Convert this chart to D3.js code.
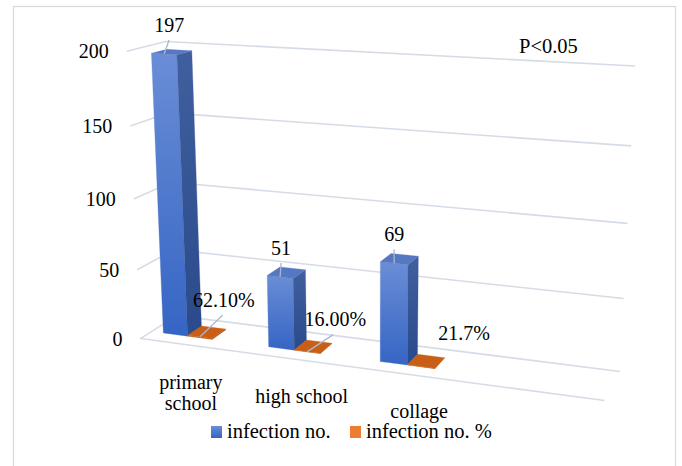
<!DOCTYPE html>
<html><head><meta charset="utf-8">
<script src="https://cdn.jsdelivr.net/npm/d3@7"></script>
<style>
@font-face { font-family: "ChartSerif"; src: local("Liberation Serif"), local("LiberationSerif"), local("Liberation Serif Regular"), local("LiberationSerif-Regular"), local("Times New Roman"); }
</style>
</head><body style="margin:0"><svg id="chart" width="682" height="466" style="display:block"></svg>
<script>
// ---------------- data ----------------
const categories = ["primary school", "high school", "collage"];
const infectionNo = [197, 51, 69];
const infectionPct = [0.621, 0.16, 0.217];
const infectionPctLabels = ["62.10%", "16.00%", "21.7%"];
const yTicks = [0, 50, 100, 150, 200];
const seriesNames = ["infection no.", "infection no. %"];
const annotation = "P<0.05";

// ---------------- layout ----------------
const W = 682, H = 466;
const FONT = 20;
const FAMILY = '"Times New Roman"';
const catSlots = 4;                  // axis holds a fourth, empty category
const barStart = 0.115, barW = 0.235; // within a category band (world units)
const zFront = 0.3, zBack = 0.7;      // bar depth within floor depth
const yScale = d3.scaleLinear().domain([0, 200]).range([0, 1]);
const xBand = d3.scaleBand().domain(d3.range(catSlots)).range([0, catSlots]).padding(0);

// camera calibration: world (X,Y,Z) of the 3-D frame -> screen pixels
const frameAnchors = [
  [0, 1, 0, 127, 52], [0, .75, 0, 130, 126], [0, .5, 0, 133, 199], [0, .25, 0, 137, 269], [0, 0, 0, 141, 339],
  [0, 1, 1, 166, 41],
  [4, 1, 1, 635, 66], [4, .75, 1, 632, 146], [4, .5, 1, 627, 223], [4, .25, 1, 623, 299], [4, 0, 1, 620, 372],
  [4, 0, 0, 605, 400]
];

function fitProjection(pts) {
  const A = [], b = [], s = 100;
  pts.forEach(([X, Y, Z, u0, v0]) => {
    const u = u0 / s, v = v0 / s;
    A.push([X, Y, Z, 1, 0, 0, 0, 0, -u * X, -u * Y, -u * Z]); b.push(u);
    A.push([0, 0, 0, 0, X, Y, Z, 1, -v * X, -v * Y, -v * Z]); b.push(v);
  });
  const n = 11;
  const M = d3.range(n).map(() => new Array(n + 1).fill(0));
  for (let r = 0; r < A.length; r++)
    for (let i = 0; i < n; i++) {
      for (let j = 0; j < n; j++) M[i][j] += A[r][i] * A[r][j];
      M[i][n] += A[r][i] * b[r];
    }
  for (let c = 0; c < n; c++) {
    let p = c;
    for (let r = c + 1; r < n; r++) if (Math.abs(M[r][c]) > Math.abs(M[p][c])) p = r;
    [M[c], M[p]] = [M[p], M[c]];
    for (let r = 0; r < n; r++) if (r !== c) {
      const f = M[r][c] / M[c][c];
      for (let k = c; k <= n; k++) M[r][k] -= f * M[c][k];
    }
  }
  const P = M.map((row, i) => row[n] / row[i]);
  return (X, Y, Z) => {
    const w = P[8] * X + P[9] * Y + P[10] * Z + 1;
    return [s * (P[0] * X + P[1] * Y + P[2] * Z + P[3]) / w,
            s * (P[4] * X + P[5] * Y + P[6] * Z + P[7]) / w];
  };
}
const proj = fitProjection(frameAnchors);

const svg = d3.select("#chart");
const defs = svg.append("defs");
function grad(id, c1, c2) {
  const g = defs.append("linearGradient").attr("id", id).attr("x1", 0).attr("y1", 0).attr("x2", 0).attr("y2", 1);
  g.append("stop").attr("offset", "0%").attr("stop-color", c1);
  g.append("stop").attr("offset", "100%").attr("stop-color", c2);
}
grad("blueFront", "#6a8dd6", "#3565c4");
grad("blueSide", "#405f9e", "#2a4a8c");
grad("orangeFront", "#d0651c", "#b9560f");

svg.append("rect").attr("width", W).attr("height", H).attr("fill", "#fff");
svg.append("rect").attr("x", 13.5).attr("y", 6.5).attr("width", 662).attr("height", 490)
  .attr("fill", "none").attr("stroke", "#d9d9d9").attr("stroke-width", 1.2);

const line = d3.line();
const gridColor = "#d6dce5";

// wall gridlines (side wall segment + back wall line)
yTicks.forEach(t => {
  const y = yScale(t);
  svg.append("path").attr("d", line([proj(0, y, 0), proj(0, y, 1), proj(catSlots, y, 1)]))
    .attr("fill", "none").attr("stroke", gridColor).attr("stroke-width", 1.6);
});
// floor front edge (category axis)
svg.append("path").attr("d", line([proj(0, 0, 0), proj(catSlots, 0, 0)]))
  .attr("fill", "none").attr("stroke", gridColor).attr("stroke-width", 1.6);

// text helper: appended directly to the svg root, serif face
function addText(x, y, str, size, anchor) {
  return svg.append("text").attr("x", x).attr("y", y)
    .attr("font-size", size || FONT)
    .style("font-family", FAMILY)
    .attr("text-anchor", anchor || "start").attr("fill", "#000")
    .text(str);
}

// y tick labels
yTicks.forEach(t => {
  const p = proj(0, yScale(t), 0);
  addText(p[0] - 18, p[1] + 7, String(t), FONT, "end");
});

// 3-D boxes
function box(x0, x1, h, z0, z1) {
  const P = proj;
  return [
    { k: "front", pts: [P(x0,0,z0), P(x0,h,z0), P(x1,h,z0), P(x1,0,z0)] },
    { k: "back", pts: [P(x0,0,z1), P(x1,0,z1), P(x1,h,z1), P(x0,h,z1)] },
    { k: "right", pts: [P(x1,0,z0), P(x1,h,z0), P(x1,h,z1), P(x1,0,z1)] },
    { k: "left", pts: [P(x0,0,z0), P(x0,0,z1), P(x0,h,z1), P(x0,h,z0)] },
    { k: "top", pts: [P(x0,h,z0), P(x0,h,z1), P(x1,h,z1), P(x1,h,z0)] },
    { k: "bottom", pts: [P(x0,0,z0), P(x1,0,z0), P(x1,0,z1), P(x0,0,z1)] }
  ];
}
function drawBox(faces, fills) {
  const ref = Math.sign(d3.polygonArea(faces[0].pts));
  faces.forEach(f => {
    if (Math.sign(d3.polygonArea(f.pts)) !== ref || !fills[f.k]) return;
    svg.append("path").attr("d", line(f.pts) + "Z").attr("fill", fills[f.k])
      .attr("stroke", fills[f.k]).attr("stroke-width", 0.3);
  });
}
const blueFills = { front: "url(#blueFront)", right: "url(#blueSide)", left: "url(#blueSide)", top: "#5677c2" };
const orangeFills = { front: "url(#orangeFront)", right: "#a74c0e", left: "#a74c0e", top: "#c95e16" };
categories.forEach((c, i) => {
  const bx0 = xBand(i) + barStart, bx1 = bx0 + barW, ox1 = bx1 + barW;
  drawBox(box(bx0, bx1, yScale(infectionNo[i]), zFront, zBack), blueFills);
  drawBox(box(bx1, ox1, yScale(infectionPct[i]), zFront, zBack), orangeFills);
});

// data labels
const leaderColor = "#aab8cb";
const blueLeaderDx = [5, 1, 0];
categories.forEach((c, i) => {
  const bx0 = xBand(i) + barStart, bx1 = bx0 + barW;
  const a = proj((bx0 + bx1) / 2, yScale(infectionNo[i]), zFront);
  const top = [a[0] + blueLeaderDx[i], a[1] - 14];
  svg.append("path").attr("d", line([a, top])).attr("stroke", leaderColor).attr("stroke-width", 1.3);
  addText(top[0], a[1] - 22, String(infectionNo[i]), FONT, "middle");
});
const pctLeader = [[23, -22], [26, -17], null];
const pctText = [[24, -30], [28, -26], [43, -27]];
categories.forEach((c, i) => {
  const bx1 = xBand(i) + barStart + barW, ox1 = bx1 + barW;
  const a = proj((bx1 + ox1) / 2, yScale(infectionPct[i]), zFront);
  if (pctLeader[i]) svg.append("path").attr("d", line([a, [a[0] + pctLeader[i][0], a[1] + pctLeader[i][1]]]))
    .attr("stroke", leaderColor).attr("stroke-width", 1.3);
  addText(a[0] + pctText[i][0], a[1] + pctText[i][1], infectionPctLabels[i], FONT, "middle");
});

// category labels (wrapped, top aligned under the front edge)
categories.forEach((c, i) => {
  const a0 = proj(xBand(i) + xBand.bandwidth() / 2, 0, -0.35);
  const a = [a0[0] + 11, a0[1] + 35 - i * 1.5];
  const lines = [];
  let cur = "";
  c.split(" ").forEach(w => {
    const test = cur ? cur + " " + w : w;
    if (test.length > 12 && cur) { lines.push(cur); cur = w; } else cur = test;
  });
  lines.push(cur);
  lines.forEach((l, k) => addText(a[0], a[1] + k * 21, l, FONT, "middle"));
});

// annotation
addText(519, 53, annotation, 20.5);

// legend
const legendColors = ["#4472c4", "#ed7d31"];
const legendX = [211, 350];
seriesNames.forEach((s, i) => {
  svg.append("rect").attr("x", legendX[i]).attr("y", 426).attr("width", 11).attr("height", 12)
    .attr("fill", i === 0 ? "url(#blueFront)" : legendColors[1]);
  addText(legendX[i] + 16, 438, s, 20.5);
});
</script></body></html>
